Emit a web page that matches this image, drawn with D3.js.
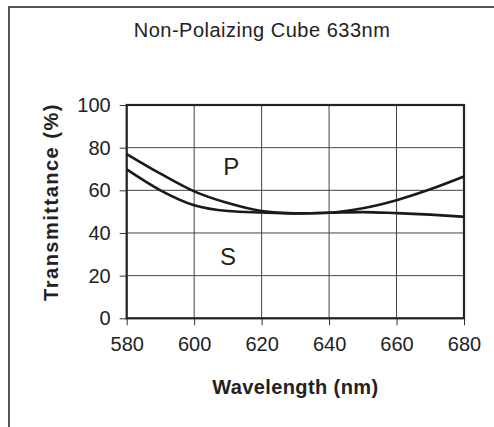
<!DOCTYPE html>
<html>
<head>
<meta charset="utf-8">
<script src="https://cdn.jsdelivr.net/npm/d3@7"></script>
<style>
  html, body { margin: 0; padding: 0; background: #fff; }
  svg text { font-family: "Liberation Sans", Arial, sans-serif; fill: #222; }
</style>
</head>
<body>
<div id="chart"></div>
<script>
// Transmittance curves, every 10 nm
const wavelengths = [580, 590, 600, 610, 620, 630, 640, 650, 660, 670, 680];
const pValues = [77, 67.8, 59.5, 54, 50.3, 49.2, 49.5, 51.6, 55.4, 60.5, 66.5];
const sValues = [69.8, 60, 53, 50.3, 49.6, 49.2, 49.5, 49.8, 49.3, 48.6, 47.6];
const xTicks = [580, 600, 620, 640, 660, 680];
const yTicks = [0, 20, 40, 60, 80, 100];
const curveNames = ['P', 'S'];
const labelWavelengths = [611, 610];
const labelValues = [67, 25];

const width = 494, height = 427;
const margin = { left: 126.7, right: 30, top: 105, bottom: 108.7 };

const svg = d3.select('#chart').append('svg')
    .attr('width', width)
    .attr('height', height);

// outer frame (only left and top edges fall inside the picture)
svg.append('rect')
    .attr('x', 9).attr('y', 7)
    .attr('width', 700).attr('height', 700)
    .attr('fill', 'none')
    .attr('stroke', '#555')
    .attr('stroke-width', 2);

const x = d3.scaleLinear()
    .domain([580, 680])
    .range([margin.left, width - margin.right]);
const y = d3.scaleLinear()
    .domain([0, 100])
    .range([height - margin.bottom, margin.top]);

// title
svg.append('text')
    .attr('x', 262).attr('y', 37)
    .attr('text-anchor', 'middle')
    .style('font-size', '20px')
    .style('letter-spacing', '0.5px')
    .text('Non-Polaizing Cube 633nm');

// grid
const grid = svg.append('g').attr('stroke', '#444').attr('stroke-width', 1);
grid.selectAll('line.v').data(xTicks).enter().append('line')
    .attr('x1', d => x(d)).attr('x2', d => x(d))
    .attr('y1', y(0)).attr('y2', y(100));
grid.selectAll('line.h').data(yTicks).enter().append('line')
    .attr('x1', x(580)).attr('x2', x(680))
    .attr('y1', d => y(d)).attr('y2', d => y(d));

// axes
const xAxis = svg.append('g')
    .attr('transform', `translate(0,${y(0)})`)
    .call(d3.axisBottom(x).tickValues(xTicks).tickFormat(d3.format('d'))
        .tickSize(7).tickPadding(12).tickSizeOuter(0));
const yAxis = svg.append('g')
    .attr('transform', `translate(${x(580)},0)`)
    .call(d3.axisLeft(y).tickValues(yTicks)
        .tickSize(7).tickPadding(9).tickSizeOuter(0));

[xAxis, yAxis].forEach(a => {
    a.select('.domain').remove();
    a.selectAll('.tick line').attr('stroke', '#333').attr('stroke-width', 1);
    a.selectAll('.tick text')
        .style('font-size', '20px')
        .style('font-family', '"Liberation Sans", Arial, sans-serif')
        .attr('fill', '#222');
});

// plot frame
svg.append('rect')
    .attr('x', x(580)).attr('y', y(100))
    .attr('width', x(680) - x(580))
    .attr('height', y(0) - y(100))
    .attr('fill', 'none')
    .attr('stroke', '#222')
    .attr('stroke-width', 2.2);

// curves
const line = d3.line()
    .x((d, i) => x(wavelengths[i]))
    .y(d => y(d))
    .curve(d3.curveMonotoneX);

[pValues, sValues].forEach(vals => {
    svg.append('path')
        .datum(vals)
        .attr('d', line)
        .attr('fill', 'none')
        .attr('stroke', '#1a1a1a')
        .attr('stroke-width', 2.6);
});

// curve labels
svg.selectAll('text.curve').data(curveNames).enter().append('text')
    .attr('class', 'curve')
    .attr('x', (d, i) => x(labelWavelengths[i]))
    .attr('y', (d, i) => y(labelValues[i]))
    .attr('text-anchor', 'middle')
    .style('font-size', '24px')
    .text(d => d);

// axis titles
svg.append('text')
    .attr('x', (x(580) + x(680)) / 2).attr('y', 394)
    .attr('text-anchor', 'middle')
    .style('font-size', '20px')
    .style('font-weight', 'bold')
    .style('letter-spacing', '0.4px')
    .text('Wavelength (nm)');

svg.append('text')
    .attr('transform', 'translate(58,202) rotate(-90)')
    .attr('text-anchor', 'middle')
    .style('font-size', '20px')
    .style('font-weight', 'bold')
    .style('letter-spacing', '1.5px')
    .text('Transmittance (%)');
</script>
</body>
</html>
